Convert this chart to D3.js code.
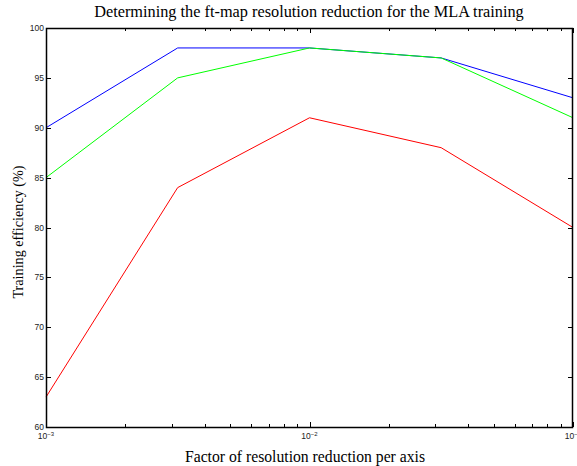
<!DOCTYPE html>
<html><head><meta charset="utf-8">
<script src="https://cdn.jsdelivr.net/npm/d3@7"></script>
<style>body{margin:0;background:#fff}svg{display:block}</style>
</head><body>
<svg id="c" width="577" height="466"></svg>
<script>
const factors = [0.001, 0.00316, 0.01, 0.0316, 0.1];
const blueSeries = [90, 98, 98, 97, 93];
const greenSeries = [85, 95, 98, 97, 91];
const redSeries = [63, 84, 91, 88, 80];
const yTicks = [60, 65, 70, 75, 80, 85, 90, 95, 100];
const xMajor = [-3, -2, -1];

const svg = d3.select("#c");
const L = 46, R = 573, T = 28, B = 427;
const x = d3.scaleLog().domain([0.001, 0.1]).range([L, R]);
const y = d3.scaleLinear().domain([60, 100]).range([B, T]);

const series = [
  {vals: blueSeries, color: "#0000ff"},
  {vals: greenSeries, color: "#00ff00"},
  {vals: redSeries, color: "#ff0000"}
];

const g = svg.append("g");
const minor = [];
for (let e = -3; e < -1; e++) for (let m = 2; m <= 9; m++) minor.push(m * Math.pow(10, e));
const tickG = g.append("g").attr("stroke", "#000").attr("stroke-width", 1);
minor.forEach(v => {
  const px = Math.round(x(v)) + 0.5;
  tickG.append("line").attr("x1", px).attr("x2", px).attr("y1", B).attr("y2", B - 3);
  tickG.append("line").attr("x1", px).attr("x2", px).attr("y1", T).attr("y2", T + 3);
});
xMajor.forEach(e => {
  const px = Math.round(x(Math.pow(10, e))) + 0.5;
  tickG.append("line").attr("x1", px).attr("x2", px).attr("y1", B).attr("y2", B - 5);
  tickG.append("line").attr("x1", px).attr("x2", px).attr("y1", T).attr("y2", T + 5);
});
yTicks.forEach(v => {
  const py = Math.round(y(v)) + 0.5;
  tickG.append("line").attr("x1", L).attr("x2", L + 5).attr("y1", py).attr("y2", py);
  tickG.append("line").attr("x1", R).attr("x2", R - 5).attr("y1", py).attr("y2", py);
});

const line = d3.line().x((d, i) => x(factors[i])).y(d => y(d));
series.forEach(s => {
  g.append("path").datum(s.vals).attr("d", line)
    .attr("fill", "none").attr("stroke", s.color).attr("stroke-width", 1);
});

g.append("rect").attr("x", L + 0.5).attr("y", T + 0.5).attr("width", R - L - 1).attr("height", B - T)
  .attr("fill", "none").attr("stroke", "#000").attr("stroke-width", 1.5);

const lab = g.append("g").attr("font-family", "Liberation Sans, Arial, sans-serif").attr("font-size", 8.5).attr("fill", "#222");
yTicks.forEach(v => {
  lab.append("text").attr("x", L - 2).attr("y", y(v) + 3).attr("text-anchor", "end").text(v);
});
xMajor.forEach(e => {
  const t = lab.append("text").attr("x", x(Math.pow(10, e))).attr("y", B + 12).attr("text-anchor", "middle");
  t.append("tspan").text("10");
  t.append("tspan").attr("dy", -3).attr("font-size", 6).text("\u2212" + (-e));
});

const serif = "Liberation Serif, 'Times New Roman', serif";
svg.append("text").attr("x", 309).attr("y", 17).attr("text-anchor", "middle")
  .attr("font-family", serif).attr("font-size", 16.3).text("Determining the ft-map resolution reduction for the MLA training");
svg.append("text").attr("x", 305).attr("y", 462).attr("text-anchor", "middle")
  .attr("font-family", serif).attr("font-size", 15.7).text("Factor of resolution reduction per axis");
svg.append("text").attr("transform", "translate(23,232) rotate(-90)").attr("text-anchor", "middle")
  .attr("font-family", serif).attr("font-size", 14.2).text("Training efficiency (%)");
</script>
</body></html>
